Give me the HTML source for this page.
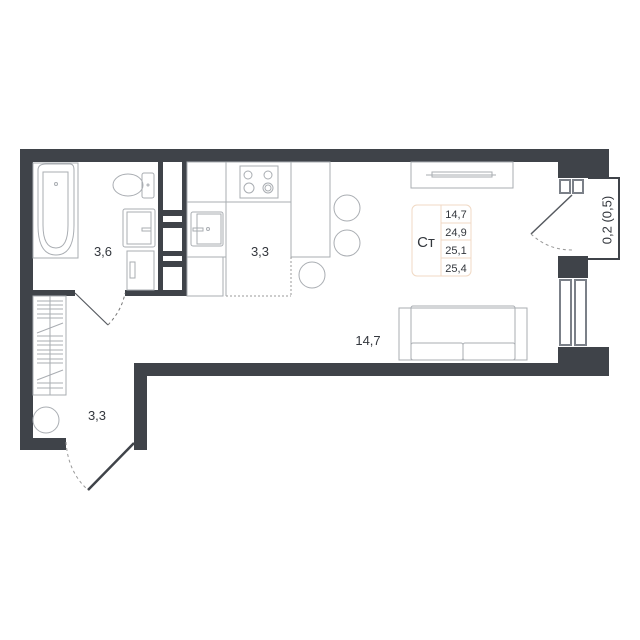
<!DOCTYPE html>
<html><head><meta charset="utf-8"><style>
html,body{margin:0;padding:0;background:#fff}
svg{display:block}
text{font-family:"Liberation Sans","DejaVu Sans",sans-serif;fill:#33373d}
</style></head><body>
<svg width="640" height="640" viewBox="0 0 640 640" xmlns="http://www.w3.org/2000/svg">
<g fill="#3f4349">
<rect x="20" y="149" width="589" height="13"/>
<rect x="20" y="149" width="13" height="301"/>
<rect x="20" y="438" width="46" height="12"/>
<rect x="134" y="363" width="13" height="87"/>
<rect x="134" y="363" width="475" height="13"/>
<rect x="558" y="149" width="51" height="29"/>
<rect x="558" y="256" width="30" height="22"/>
<rect x="558" y="347" width="51" height="29"/>
<rect x="33" y="290" width="42" height="6"/>
<rect x="125" y="290" width="62" height="6"/>
<rect x="158" y="162" width="29" height="134"/>
</g>
<g fill="#fff">
<rect x="163" y="162" width="19" height="48"/>
<rect x="163" y="216" width="19" height="6"/>
<rect x="163" y="228" width="19" height="23"/>
<rect x="163" y="256" width="19" height="5"/>
<rect x="163" y="267" width="19" height="23"/>
</g>
<polyline points="588,178 619,178 619,259 588,259" fill="none" stroke="#3f4349" stroke-width="2"/>
<g fill="#fff" stroke="#7b8088" stroke-width="2">
<rect x="560" y="180" width="10" height="13"/>
<rect x="573" y="180" width="10" height="13"/>
<rect x="560" y="280" width="11" height="65"/>
<rect x="575" y="280" width="11" height="65"/>
</g>
<text x="608" y="220" font-size="13" text-anchor="middle" transform="rotate(-90 608 220)" dominant-baseline="middle">0,2 (0,5)</text>
<g stroke="#55595f" fill="none">
<line x1="572" y1="195" x2="531" y2="234" stroke-width="1.5"/>
<path d="M531,234 Q548,250 572,250" stroke-dasharray="3,3" stroke="#999" stroke-width="1"/>
<line x1="75" y1="293" x2="108" y2="325" stroke-width="1.2"/>
<path d="M108,325 Q122,310 125,293" stroke-dasharray="3,3" stroke="#777" stroke-width="1"/>
<line x1="134" y1="443" x2="88" y2="490" stroke="#3f4349" stroke-width="2.5"/>
<path d="M66,442 Q68,472 88,490" stroke-dasharray="3,3" stroke="#999" stroke-width="1"/>
</g>
<g fill="none" stroke="#a9adb2" stroke-width="1">
<rect x="33" y="163" width="45" height="95"/>
<path d="M38,170 Q38,164 46,164 L70,164 Q74,164 74,170 L74,225 Q74,255 56,255 Q38,255 38,225 Z"/>
<path d="M43,172 L68,172 L68,225 Q68,248 56,248 Q43,248 43,225 Z"/>
<circle cx="56" cy="184" r="1.5"/>
<ellipse cx="128" cy="185" rx="15" ry="11"/>
<rect x="142" y="173" width="12" height="25" rx="2"/>
<circle cx="148" cy="185" r="1"/>
<rect x="123" y="209" width="32" height="38" rx="2"/>
<rect x="127" y="212" width="24" height="32"/>
<rect x="142" y="228" width="9" height="3"/>
<rect x="127" y="251" width="27" height="39"/>
<rect x="130" y="262" width="5" height="16"/>
<rect x="33" y="296" width="33" height="99"/>
<line x1="50" y1="296" x2="50" y2="395"/>
<circle cx="46" cy="420" r="13"/>
<rect x="187" y="162" width="39" height="40"/>
<rect x="226" y="162" width="65" height="40"/>
<rect x="240" y="166" width="38" height="32"/>
<circle cx="248" cy="175" r="4"/><circle cx="268" cy="175" r="4"/>
<circle cx="249" cy="188" r="5"/><circle cx="268" cy="188" r="5"/><circle cx="268" cy="188" r="3"/>
<rect x="187" y="202" width="39" height="55"/>
<rect x="191" y="212" width="32" height="34" rx="2"/>
<rect x="197" y="214" width="24" height="30"/>
<rect x="193" y="228" width="10" height="3"/>
<circle cx="208" cy="229" r="1.5"/>
<rect x="187" y="257" width="36" height="39"/>
<rect x="291" y="162" width="39" height="95"/>
<circle cx="347" cy="208" r="13"/>
<circle cx="347" cy="243" r="13"/>
<circle cx="312" cy="275" r="13"/>
<rect x="411" y="162" width="102" height="26"/>
<rect x="432" y="172" width="60" height="5"/>
<line x1="426" y1="175" x2="496" y2="175"/>
<rect x="399" y="308" width="128" height="52"/>
<rect x="411" y="306" width="104" height="54" rx="2"/>
<rect x="411" y="343" width="52" height="17" rx="2"/>
<rect x="463" y="343" width="52" height="17" rx="2"/>
</g>
<g stroke="#a9adb2" stroke-width="1">
<line x1="37" y1="301" x2="63" y2="301"/>
<line x1="37" y1="305" x2="63" y2="305"/>
<line x1="37" y1="309" x2="63" y2="309"/>
<line x1="37" y1="314" x2="63" y2="314"/>
<line x1="37" y1="318" x2="63" y2="318"/>
<line x1="37" y1="333" x2="63" y2="323"/>
<line x1="37" y1="336" x2="63" y2="336"/>
<line x1="37" y1="341" x2="63" y2="341"/>
<line x1="37" y1="345" x2="63" y2="345"/>
<line x1="37" y1="350" x2="63" y2="350"/>
<line x1="37" y1="354" x2="63" y2="354"/>
<line x1="37" y1="359" x2="63" y2="359"/>
<line x1="37" y1="363" x2="63" y2="363"/>
<line x1="37" y1="380" x2="63" y2="370"/>
<line x1="37" y1="383" x2="63" y2="383"/>
<line x1="37" y1="388" x2="63" y2="388"/>
</g>
<g stroke="#999" stroke-dasharray="2,2" fill="none" stroke-width="1">
<line x1="291" y1="257" x2="291" y2="296"/>
<line x1="226" y1="296" x2="291" y2="296"/>
</g>
<line x1="226" y1="202" x2="226" y2="296" stroke="#a9adb2"/>
<g fill="none" stroke="#f0d9c4" stroke-width="1">
<rect x="412" y="205" width="59" height="71" rx="5"/>
<line x1="441" y1="205" x2="441" y2="276"/>
<line x1="441" y1="223" x2="471" y2="223"/>
<line x1="441" y1="240" x2="471" y2="240"/>
<line x1="441" y1="258" x2="471" y2="258"/>
</g>
<text x="426" y="247" font-size="15" text-anchor="middle">Ст</text>
<g font-size="11" text-anchor="middle">
<text x="456" y="218">14,7</text>
<text x="456" y="236">24,9</text>
<text x="456" y="254">25,1</text>
<text x="456" y="272">25,4</text>
</g>
<g font-size="13" text-anchor="middle">
<text x="103" y="256">3,6</text>
<text x="260" y="256">3,3</text>
<text x="97" y="420">3,3</text>
<text x="368" y="345">14,7</text>
</g>
</svg>
</body></html>
